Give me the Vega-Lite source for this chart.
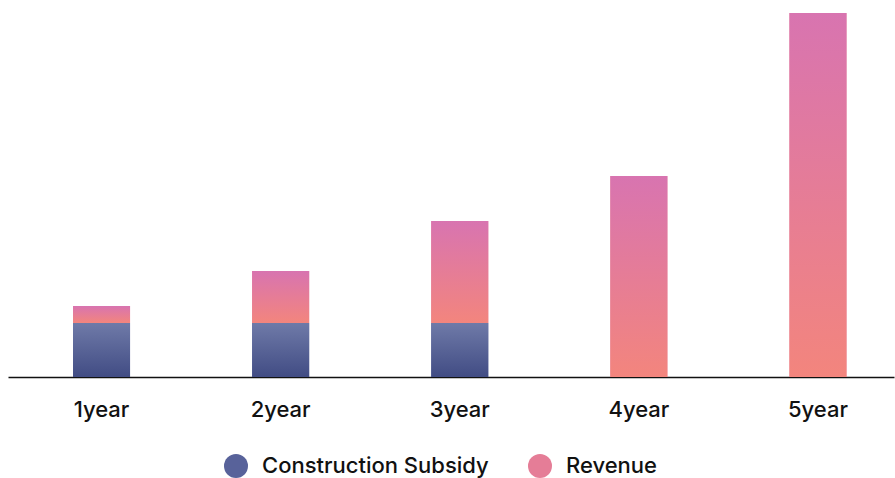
{
  "$schema": "https://vega.github.io/schema/vega-lite/v6.json",
  "width": 886,
  "height": 364,
  "autosize": "none",
  "padding": {"left": 8, "top": 13, "right": 1, "bottom": 101},
  "background": "white",
  "config": {"view": {"stroke": null}, "font": "Inter"},
  "data": {
    "values": [
      {"year": "1year", "type": "Construction Subsidy", "value": 54},
      {"year": "1year", "type": "Revenue", "value": 17},
      {"year": "2year", "type": "Construction Subsidy", "value": 54},
      {"year": "2year", "type": "Revenue", "value": 52},
      {"year": "3year", "type": "Construction Subsidy", "value": 54},
      {"year": "3year", "type": "Revenue", "value": 102},
      {"year": "4year", "type": "Revenue", "value": 201},
      {"year": "5year", "type": "Revenue", "value": 364}
    ]
  },
  "transform": [
    {"stack": "value", "groupby": ["year"], "sort": [{"field": "type", "order": "ascending"}], "as": ["v0", "v1"]}
  ],
  "encoding": {
    "x": {
      "field": "year",
      "type": "nominal",
      "sort": null,
      "scale": {"paddingInner": 0.68, "paddingOuter": 0.3134, "align": 0.578},
      "axis": {
        "title": null,
        "labelAngle": 0,
        "ticks": false,
        "domainColor": "#111111",
        "domainWidth": 1.5,
        "labelFontSize": 22,
        "labelFontWeight": 500,
        "labelColor": "#111111",
        "labelPadding": 22
      }
    },
    "y": {
      "field": "v1",
      "type": "quantitative",
      "scale": {"domain": [0, 364], "nice": false},
      "axis": null
    },
    "y2": {"field": "v0"}
  },
  "layer": [
    {
      "mark": {"type": "bar", "width": 57},
      "encoding": {
        "color": {
          "field": "type",
          "type": "nominal",
          "scale": {"domain": ["Construction Subsidy", "Revenue"], "range": ["#58629a", "#e57d97"]},
          "legend": {
            "title": null,
            "orient": "none",
            "legendX": 216,
            "legendY": 441,
            "direction": "horizontal",
            "symbolType": "circle",
            "symbolSize": 576,
            "symbolStrokeWidth": 0,
            "symbolOpacity": 1,
            "labelFontSize": 22,
            "labelFontWeight": 500,
            "labelColor": "#111111",
            "labelOffset": 14,
            "labelLimit": 500,
            "columnPadding": 39
          }
        }
      }
    },
    {
      "transform": [{"filter": "datum.type === 'Construction Subsidy'"}],
      "mark": {
        "type": "bar",
        "width": 57,
        "color": {"gradient": "linear", "x1": 0, "y1": 1, "x2": 0, "y2": 0, "stops": [{"offset": 0, "color": "#414c84"}, {"offset": 1, "color": "#6f7aa8"}]}
      }
    },
    {
      "transform": [{"filter": "datum.type === 'Revenue'"}],
      "mark": {
        "type": "bar",
        "width": 57,
        "color": {"gradient": "linear", "x1": 0, "y1": 1, "x2": 0, "y2": 0, "stops": [{"offset": 0, "color": "#f3857d"}, {"offset": 1, "color": "#d874b0"}]}
      }
    }
  ]
}
